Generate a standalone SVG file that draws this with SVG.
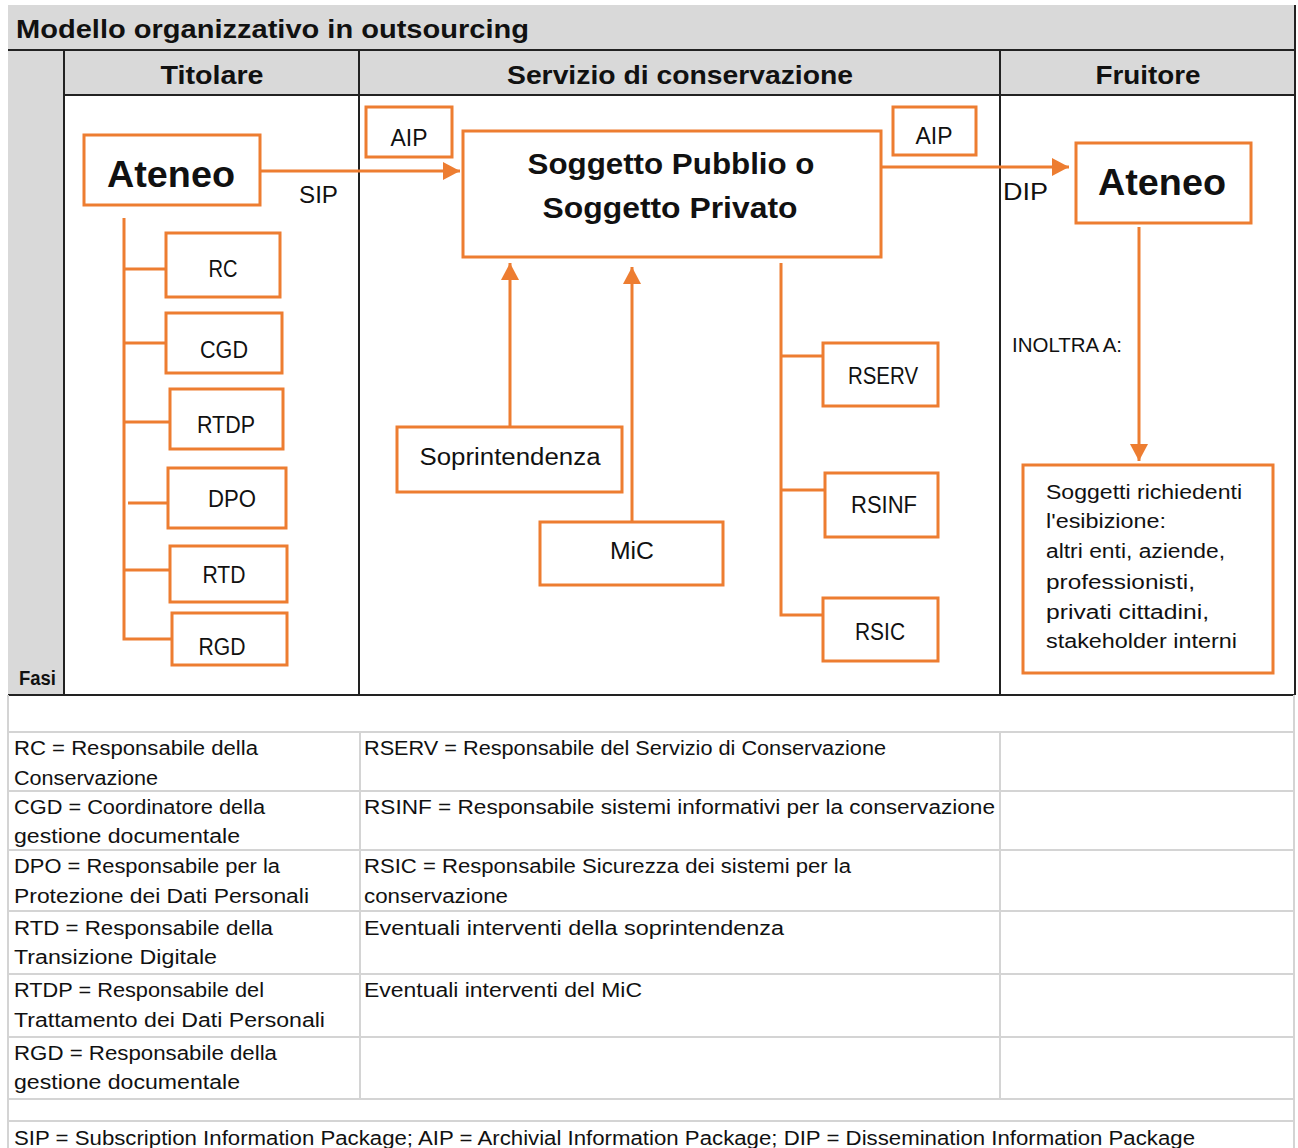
<svg xmlns="http://www.w3.org/2000/svg" width="1298" height="1148" viewBox="0 0 1298 1148">
<defs>
<style>
text{font-family:"Liberation Sans",Arial,sans-serif;fill:#111}
.b{font-weight:bold}
.box{fill:#fff;stroke:#ED7D31;stroke-width:3}
.con{fill:none;stroke:#ED7D31;stroke-width:3}
.blk{stroke:#222;stroke-width:2;fill:none}
.lg{stroke:#d4d4d4;stroke-width:2;fill:none}
.hd{font-size:26px;font-weight:bold;text-anchor:middle}
.nd{font-size:23px;text-anchor:middle}
.tb{font-size:20px}
.lb{font-size:24px}
.sg{font-size:20px}
</style>
<marker id="ah" markerUnits="userSpaceOnUse" markerWidth="18" markerHeight="18" refX="17" refY="9" orient="auto">
<path d="M0,0 L17,9 L0,18 z" fill="#ED7D31"/>
</marker>
</defs>
<rect width="1298" height="1148" fill="#fff"/>
<g id="frame">
<rect x="8" y="5" width="1287" height="90" fill="#d9d9d9"/>
<rect x="8" y="95" width="56" height="600" fill="#d9d9d9"/>
<line class="blk" x1="8" y1="50" x2="1295" y2="50"/>
<line class="blk" x1="64" y1="95" x2="1295" y2="95"/>
<line class="blk" x1="64" y1="50" x2="64" y2="695"/>
<line class="blk" x1="359" y1="50" x2="359" y2="695"/>
<line class="blk" x1="1000" y1="50" x2="1000" y2="695"/>
<line class="blk" x1="1295" y1="5" x2="1295" y2="695"/>
<line class="blk" x1="8" y1="695" x2="1295" y2="695"/>
<text class="b" x="16" y="38" font-size="25" textLength="513" lengthAdjust="spacingAndGlyphs">Modello organizzativo in outsourcing</text>
<text class="hd" x="212" y="84" textLength="103" lengthAdjust="spacingAndGlyphs">Titolare</text>
<text class="hd" x="680" y="84" textLength="346" lengthAdjust="spacingAndGlyphs">Servizio di conservazione</text>
<text class="hd" x="1148" y="84" textLength="105" lengthAdjust="spacingAndGlyphs">Fruitore</text>
<text class="b" x="19" y="685" font-size="20" textLength="37" lengthAdjust="spacingAndGlyphs">Fasi</text>
</g>
<g id="connectors">
<line class="con" x1="260" y1="171" x2="460" y2="171" marker-end="url(#ah)"/>
<line class="con" x1="882" y1="167" x2="1069" y2="167" marker-end="url(#ah)"/>
<line class="con" x1="510" y1="427" x2="510" y2="263" marker-end="url(#ah)"/>
<line class="con" x1="632" y1="522" x2="632" y2="267" marker-end="url(#ah)"/>
<line class="con" x1="1139" y1="227" x2="1139" y2="461" marker-end="url(#ah)"/>
<path class="con" d="M124,218 V639 H172 M124,269 H166 M124,343 H166 M124,422 H170 M128,503 H168 M124,570 H170"/>
<path class="con" d="M781,263 V615 H823 M781,356 H823 M781,490 H825"/>
<text class="lb" x="299" y="203" textLength="39" lengthAdjust="spacingAndGlyphs">SIP</text>
<text class="lb" x="1003" y="200" textLength="45" lengthAdjust="spacingAndGlyphs">DIP</text>
<text x="1012" y="352" font-size="20" textLength="110" lengthAdjust="spacingAndGlyphs">INOLTRA  A:</text>
</g>
<g id="ateneo-titolare">
<rect class="box" x="84" y="135" width="176" height="70"/>
<text class="b" x="171" y="187" font-size="37" text-anchor="middle" textLength="128" lengthAdjust="spacingAndGlyphs">Ateneo</text>
</g>
<g id="aip-left">
<rect class="box" x="366" y="107" width="86" height="50"/>
<text class="lb" x="409" y="146" text-anchor="middle" textLength="37" lengthAdjust="spacingAndGlyphs">AIP</text>
</g>
<g id="soggetto">
<rect class="box" x="463" y="131" width="418" height="126"/>
<text class="b" x="671" y="174" font-size="29" text-anchor="middle" textLength="287" lengthAdjust="spacingAndGlyphs">Soggetto Pubblio o</text>
<text class="b" x="670" y="218" font-size="29" text-anchor="middle" textLength="255" lengthAdjust="spacingAndGlyphs">Soggetto Privato</text>
</g>
<g id="aip-right">
<rect class="box" x="893" y="107" width="83" height="48"/>
<text class="lb" x="934" y="144" text-anchor="middle" textLength="37" lengthAdjust="spacingAndGlyphs">AIP</text>
</g>
<g id="ateneo-fruitore">
<rect class="box" x="1076" y="143" width="175" height="80"/>
<text class="b" x="1162" y="195" font-size="37" text-anchor="middle" textLength="128" lengthAdjust="spacingAndGlyphs">Ateneo</text>
</g>
<g id="rc"><rect class="box" x="166" y="233" width="114" height="64"/><text class="nd" x="223" y="277" textLength="29" lengthAdjust="spacingAndGlyphs">RC</text></g>
<g id="cgd"><rect class="box" x="166" y="313" width="116" height="60"/><text class="nd" x="224" y="358" textLength="48" lengthAdjust="spacingAndGlyphs">CGD</text></g>
<g id="rtdp"><rect class="box" x="170" y="389" width="113" height="60"/><text class="nd" x="226" y="433" textLength="58" lengthAdjust="spacingAndGlyphs">RTDP</text></g>
<g id="dpo"><rect class="box" x="168" y="468" width="118" height="60"/><text class="nd" x="232" y="507" textLength="48" lengthAdjust="spacingAndGlyphs">DPO</text></g>
<g id="rtd"><rect class="box" x="170" y="546" width="117" height="56"/><text class="nd" x="224" y="583" textLength="43" lengthAdjust="spacingAndGlyphs">RTD</text></g>
<g id="rgd"><rect class="box" x="172" y="613" width="115" height="52"/><text class="nd" x="222" y="655" textLength="47" lengthAdjust="spacingAndGlyphs">RGD</text></g>
<g id="soprintendenza"><rect class="box" x="397" y="427" width="225" height="65"/><text class="nd" x="510" y="465" textLength="181" lengthAdjust="spacingAndGlyphs">Soprintendenza</text></g>
<g id="mic"><rect class="box" x="540" y="522" width="183" height="63"/><text class="nd" x="632" y="559" textLength="44" lengthAdjust="spacingAndGlyphs">MiC</text></g>
<g id="rserv"><rect class="box" x="823" y="343" width="115" height="63"/><text class="nd" x="883" y="384" textLength="70" lengthAdjust="spacingAndGlyphs">RSERV</text></g>
<g id="rsinf"><rect class="box" x="825" y="473" width="113" height="64"/><text class="nd" x="884" y="513" textLength="66" lengthAdjust="spacingAndGlyphs">RSINF</text></g>
<g id="rsic"><rect class="box" x="823" y="598" width="115" height="63"/><text class="nd" x="880" y="640" textLength="50" lengthAdjust="spacingAndGlyphs">RSIC</text></g>
<g id="soggetti-richiedenti">
<rect class="box" x="1023" y="465" width="250" height="208"/>
<text class="sg" x="1046" y="499" textLength="196" lengthAdjust="spacingAndGlyphs">Soggetti richiedenti</text>
<text class="sg" x="1046" y="528" textLength="120" lengthAdjust="spacingAndGlyphs">l'esibizione:</text>
<text class="sg" x="1046" y="558" textLength="179" lengthAdjust="spacingAndGlyphs">altri enti, aziende,</text>
<text class="sg" x="1046" y="589" textLength="149" lengthAdjust="spacingAndGlyphs">professionisti,</text>
<text class="sg" x="1046" y="619" textLength="163" lengthAdjust="spacingAndGlyphs">privati cittadini,</text>
<text class="sg" x="1046" y="648" textLength="191" lengthAdjust="spacingAndGlyphs">stakeholder interni</text>
</g>
<g id="legend">
<path class="lg" d="M8,695 V1148 M1294,695 V1148 M8,732 H1294 M8,791 H1294 M8,850 H1294 M8,911 H1294 M8,974 H1294 M8,1037 H1294 M8,1099 H1294 M8,1121 H1294 M360,732 V1099 M1000,732 V1099"/>
<text class="tb" x="14" y="755" textLength="244" lengthAdjust="spacingAndGlyphs">RC = Responsabile della</text>
<text class="tb" x="14" y="785" textLength="144" lengthAdjust="spacingAndGlyphs">Conservazione</text>
<text class="tb" x="14" y="814" textLength="251" lengthAdjust="spacingAndGlyphs">CGD = Coordinatore della</text>
<text class="tb" x="14" y="843" textLength="226" lengthAdjust="spacingAndGlyphs">gestione documentale</text>
<text class="tb" x="14" y="873" textLength="266" lengthAdjust="spacingAndGlyphs">DPO = Responsabile per la</text>
<text class="tb" x="14" y="903" textLength="295" lengthAdjust="spacingAndGlyphs">Protezione dei Dati Personali</text>
<text class="tb" x="14" y="935" textLength="259" lengthAdjust="spacingAndGlyphs">RTD = Responsabile della</text>
<text class="tb" x="14" y="964" textLength="203" lengthAdjust="spacingAndGlyphs">Transizione Digitale</text>
<text class="tb" x="14" y="997" textLength="250" lengthAdjust="spacingAndGlyphs">RTDP = Responsabile del</text>
<text class="tb" x="14" y="1027" textLength="311" lengthAdjust="spacingAndGlyphs">Trattamento dei Dati Personali</text>
<text class="tb" x="14" y="1060" textLength="263" lengthAdjust="spacingAndGlyphs">RGD = Responsabile della</text>
<text class="tb" x="14" y="1089" textLength="226" lengthAdjust="spacingAndGlyphs">gestione documentale</text>
<text class="tb" x="364" y="755" textLength="522" lengthAdjust="spacingAndGlyphs">RSERV = Responsabile del Servizio di Conservazione</text>
<text class="tb" x="364" y="814" textLength="631" lengthAdjust="spacingAndGlyphs">RSINF = Responsabile sistemi informativi per la conservazione</text>
<text class="tb" x="364" y="873" textLength="487" lengthAdjust="spacingAndGlyphs">RSIC = Responsabile Sicurezza dei sistemi per la</text>
<text class="tb" x="364" y="903" textLength="144" lengthAdjust="spacingAndGlyphs">conservazione</text>
<text class="tb" x="364" y="935" textLength="420" lengthAdjust="spacingAndGlyphs">Eventuali interventi della soprintendenza</text>
<text class="tb" x="364" y="997" textLength="278" lengthAdjust="spacingAndGlyphs">Eventuali interventi del MiC</text>
<text class="tb" x="14" y="1145" textLength="1181" lengthAdjust="spacingAndGlyphs">SIP = Subscription Information Package; AIP = Archivial Information Package; DIP = Dissemination Information Package</text>
</g>
</svg>
